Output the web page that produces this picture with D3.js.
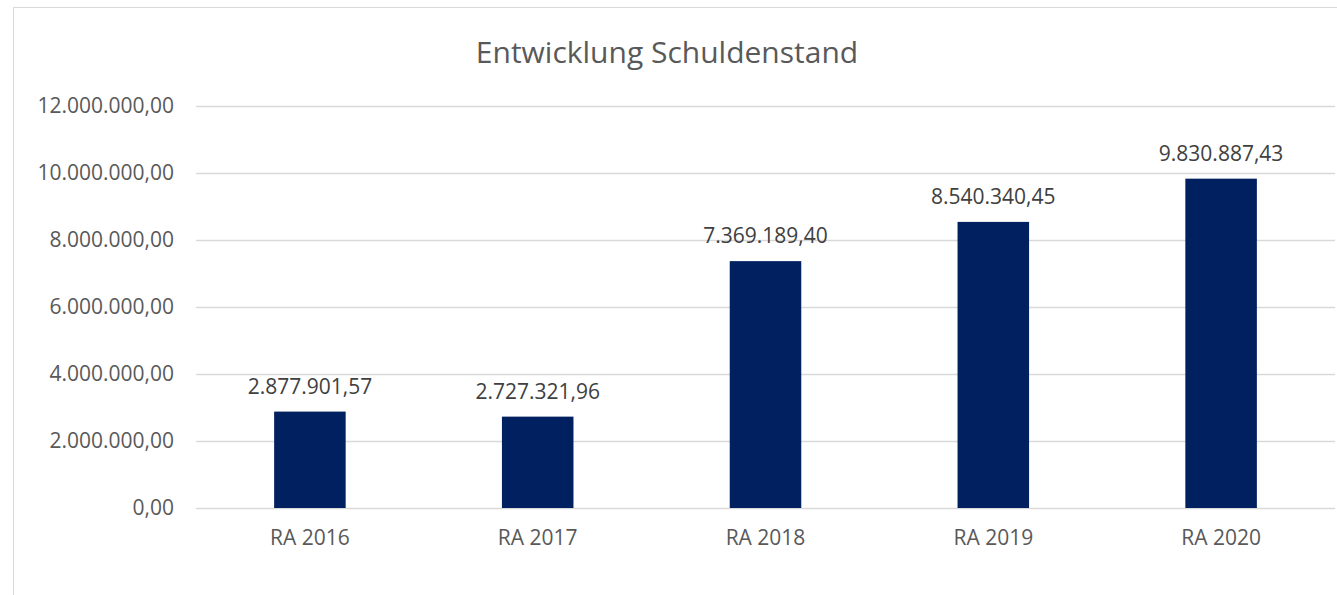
<!DOCTYPE html>
<html>
<head>
<meta charset="utf-8">
<script src="https://cdn.jsdelivr.net/npm/d3@7"></script>
<style>
  body { margin: 0; background: #fff; }
  svg { display: block; font-family: "Open Sans", sans-serif; }
</style>
</head>
<body>
<svg id="chart" width="1337" height="595"></svg>
<script>
// data
const categories = ["RA 2016", "RA 2017", "RA 2018", "RA 2019", "RA 2020"];
const values = [2877901.57, 2727321.96, 7369189.4, 8540340.45, 9830887.43];
const yTicks = [0, 2000000, 4000000, 6000000, 8000000, 10000000, 12000000];
const title = "Entwicklung Schuldenstand";

const svg = d3.select("#chart");
const margin = { top: 106, right: 2, bottom: 87, left: 196 };
const width = 1337 - margin.left - margin.right;
const height = 595 - margin.top - margin.bottom;

const de = d3.formatLocale({ decimal: ",", thousands: ".", grouping: [3], currency: ["", " €"] });
const fmt = de.format(",.2f");

// chart frame
svg.append("rect")
  .attr("x", 13.5)
  .attr("y", 7.5)
  .attr("width", 1400)
  .attr("height", 700)
  .attr("fill", "none")
  .attr("stroke", "#d9d9d9");

svg.append("text")
  .attr("x", 667)
  .attr("y", 63)
  .attr("text-anchor", "middle")
  .attr("fill", "#595959")
  .attr("font-size", 30)
  .text(title);

const g = svg.append("g").attr("transform", `translate(${margin.left}, ${margin.top})`);

const x = d3.scaleBand().domain(categories).range([0, width]).paddingInner(0.686).paddingOuter(0.343);
const y = d3.scaleLinear().domain([0, 12000000]).range([height, 0]);

// gridlines + y labels
const yAxis = g.append("g")
  .call(d3.axisLeft(y).tickValues(yTicks).tickSize(-width).tickPadding(22).tickFormat(fmt));
yAxis.select(".domain").remove();
yAxis.selectAll("line").attr("stroke", "#d9d9d9").attr("stroke-width", 1.3);
yAxis.selectAll("text").attr("fill", "#595959").attr("font-size", 21).attr("font-family", "Open Sans");

// bars
g.selectAll("rect.bar")
  .data(values)
  .enter()
  .append("rect")
  .attr("class", "bar")
  .attr("x", (d, i) => x(categories[i]))
  .attr("width", x.bandwidth())
  .attr("y", (d) => y(d))
  .attr("height", (d) => height - y(d))
  .attr("fill", "#002060");

// value labels
g.selectAll("text.val")
  .data(values)
  .enter()
  .append("text")
  .attr("class", "val")
  .attr("x", (d, i) => x(categories[i]) + x.bandwidth() / 2)
  .attr("y", (d) => y(d) - 18)
  .attr("text-anchor", "middle")
  .attr("fill", "#404040")
  .attr("font-size", 21)
  .text((d) => fmt(d));

// x labels
const xAxis = g.append("g")
  .attr("transform", `translate(0, ${height})`)
  .call(d3.axisBottom(x).tickSize(0).tickPadding(22));
xAxis.select(".domain").remove();
xAxis.selectAll("text").attr("fill", "#595959").attr("font-size", 21).attr("font-family", "Open Sans");
</script>
</body>
</html>
